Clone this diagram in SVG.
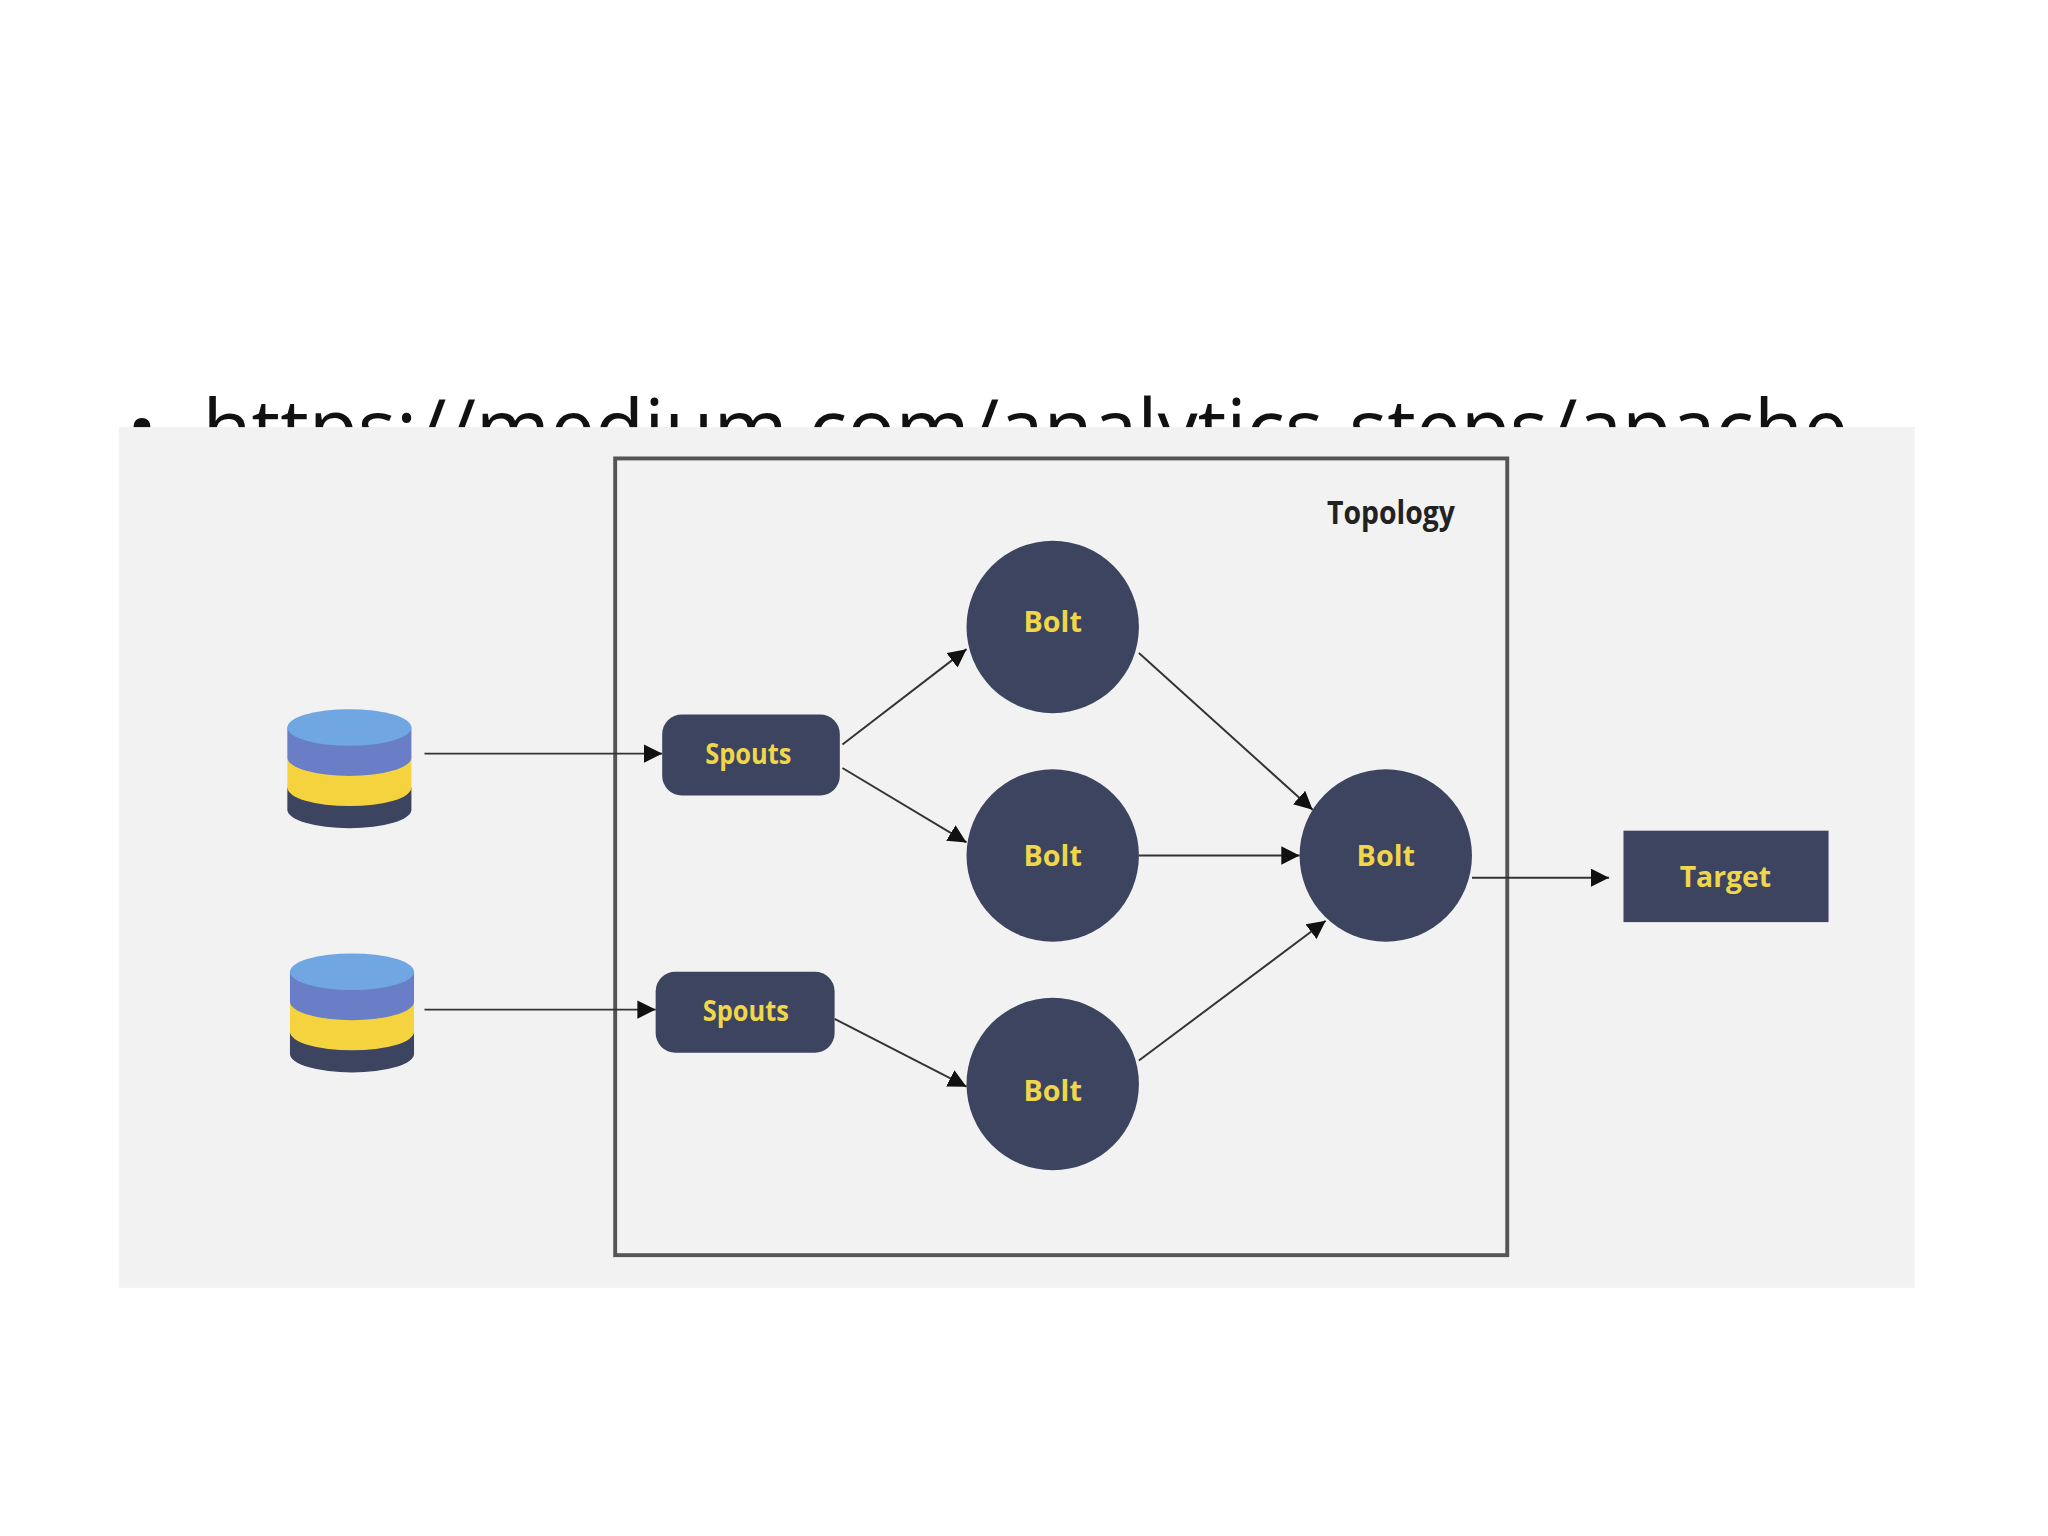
<svg xmlns="http://www.w3.org/2000/svg" width="2048" height="1536" viewBox="0 0 2048 1536">
<defs>
<style>
.bolt{fill:#3d4460}
.lbl{font-family:"Open Sans","Liberation Sans",sans-serif;font-weight:bold;fill:#f0d64a;font-size:22px;text-anchor:middle}
.edge{stroke:#333;stroke-width:1.5;fill:none;marker-end:url(#ah)}
</style>
<marker id="ah" viewBox="0 0 10 10" refX="10" refY="5" markerWidth="14" markerHeight="14" orient="auto" markerUnits="userSpaceOnUse"><path d="M0,0L10,5L0,10z" fill="#111"/></marker>
</defs>
<rect width="2048" height="1536" fill="#fff"/>
<g transform="scale(1.3061)">
<text x="97" y="350" font-family="Open Sans,Liberation Sans,sans-serif" font-size="62" fill="#111">•</text>
<text x="155" y="350" font-family="Open Sans,Liberation Sans,sans-serif" font-size="62" fill="#111" textLength="1260" lengthAdjust="spacingAndGlyphs">https://medium.com/analytics-steps/apache</text>
<rect x="91" y="327" width="1375" height="659" fill="#f2f2f3"/>
<g id="topology">
<rect x="471" y="351" width="683" height="610" fill="none" stroke="#555" stroke-width="3"/>
<text x="1065" y="401" font-family="Open Sans,Liberation Sans,sans-serif" font-weight="bold" font-size="24" fill="#222" text-anchor="middle" textLength="98" lengthAdjust="spacingAndGlyphs">Topology</text>
</g>
<g id="db1">
<path d="M220,603 v17 a47,14 0 0 0 95,0 v-17z" fill="#3d4460"/>
<path d="M220,580 v23 a47,14 0 0 0 95,0 v-23z" fill="#f5d33f"/>
<path d="M220,557 v23 a47,14 0 0 0 95,0 v-23z" fill="#6a7ec8"/>
<ellipse cx="267.5" cy="557" rx="47.5" ry="14" fill="#70a6e2"/>
</g>
<g id="db2">
<path d="M222,790 v17 a47,14 0 0 0 95,0 v-17z" fill="#3d4460"/>
<path d="M222,767 v23 a47,14 0 0 0 95,0 v-23z" fill="#f5d33f"/>
<path d="M222,744 v23 a47,14 0 0 0 95,0 v-23z" fill="#6a7ec8"/>
<ellipse cx="269.5" cy="744" rx="47.5" ry="14" fill="#70a6e2"/>
</g>
<g id="spout1"><rect x="507" y="547" width="136" height="62" rx="15" class="bolt"/><text x="573" y="585" class="lbl" textLength="66" lengthAdjust="spacingAndGlyphs">Spouts</text></g>
<g id="spout2"><rect x="502" y="744" width="137" height="62" rx="15" class="bolt"/><text x="571" y="782" class="lbl" textLength="66" lengthAdjust="spacingAndGlyphs">Spouts</text></g>
<g id="bolt1"><circle cx="806" cy="480" r="66" class="bolt"/><text x="806" y="484" class="lbl">Bolt</text></g>
<g id="bolt2"><circle cx="806" cy="655" r="66" class="bolt"/><text x="806" y="663" class="lbl">Bolt</text></g>
<g id="bolt3"><circle cx="806" cy="830" r="66" class="bolt"/><text x="806" y="843" class="lbl">Bolt</text></g>
<g id="bolt4"><circle cx="1061" cy="655" r="66" class="bolt"/><text x="1061" y="663" class="lbl">Bolt</text></g>
<g id="target"><rect x="1243" y="636" width="157" height="70" class="bolt"/><text x="1321" y="679" class="lbl" textLength="70" lengthAdjust="spacingAndGlyphs">Target</text></g>
<g id="connectors">
<line x1="325" y1="577" x2="507" y2="577" class="edge"/>
<line x1="325" y1="773" x2="502" y2="773" class="edge"/>
<line x1="645" y1="570" x2="740" y2="497" class="edge"/>
<line x1="645" y1="588" x2="740" y2="645" class="edge"/>
<line x1="639" y1="780" x2="740" y2="832" class="edge"/>
<line x1="872" y1="500" x2="1005" y2="620" class="edge"/>
<line x1="872" y1="655" x2="995" y2="655" class="edge"/>
<line x1="872" y1="812" x2="1015" y2="705" class="edge"/>
<line x1="1127" y1="672" x2="1232" y2="672" class="edge"/>
</g>
</g>
</svg>
